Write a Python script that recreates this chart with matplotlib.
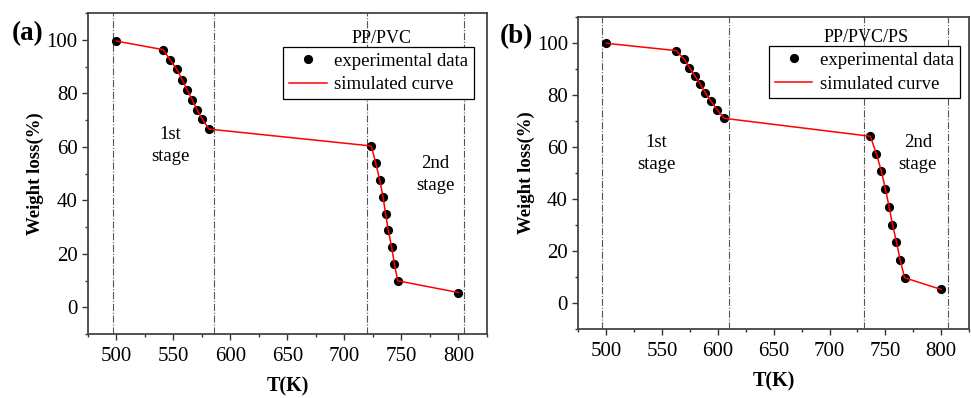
import matplotlib
matplotlib.use("Agg")
import matplotlib.pyplot as plt
from matplotlib.ticker import MultipleLocator

plt.rcParams["font.family"] = ["Liberation Serif", "DejaVu Serif"]

# ---------------------------------------------------------------- data
# (a) PP/PVC
t_a = [500, 541, 547, 553, 557.6, 562, 566.4, 570.8, 575.4, 581.3,
       723.5, 727.4, 730.9, 733.8, 736.1, 738.5, 741.4, 743.8, 746.7, 800]
w_a = [99.5, 96.3, 92.5, 88.9, 85.1, 81.3, 77.6, 73.8, 70.2, 66.6,
       60.3, 54.0, 47.6, 41.4, 34.9, 28.7, 22.4, 16.2, 9.9, 5.5]
stages_a = [496.7, 585.5, 720, 805]

# (b) PP/PVC/PS
t_b = [500, 562.5, 569.7, 574.5, 579.6, 584.4, 588.9, 594, 599.4, 605.7,
       736.5, 742, 746.5, 750.1, 753.4, 756.4, 760, 763.3, 767.2, 800]
w_b = [99.8, 97.0, 93.8, 90.5, 87.2, 84.0, 80.7, 77.5, 74.2, 71.0,
       64.1, 57.4, 50.6, 43.8, 37.0, 30.2, 23.5, 16.7, 9.8, 5.3]
stages_b = [496.4, 609.8, 731.3, 805.7]

panels = [
    dict(t=t_a, w=w_a, stages=stages_a, tag="(a)", name="PP/PVC",
         rect=[0.0906, 0.1608, 0.4109, 0.8065], s1=(547, 60.5), s2=(780, 49.6),
         leg=(0.967, 0.894), title_y=0.922, tag_x=-0.19),
    dict(t=t_b, w=w_b, stages=stages_b, tag="(b)", name="PP/PVC/PS",
         rect=[0.5956, 0.1726, 0.4024, 0.7854], s1=(545, 57.5), s2=(779, 57.5),
         leg=(0.976, 0.906), title_y=0.935, tag_x=-0.2),
]

fig = plt.figure(figsize=(9.71, 3.98), dpi=100)

for p in panels:
    ax = fig.add_axes(p["rect"])
    for xs in p["stages"]:
        ax.axvline(xs, color="#555555", lw=0.8, ls="-.", zorder=1)
    ax.plot(p["t"], p["w"], "o", color="black", ms=5.6, zorder=3,
            label="experimental data")
    ax.plot(p["t"], p["w"], "-", color="red", lw=1.1, zorder=4,
            label="simulated curve")

    ax.set_xlim(475, 825)
    ax.set_ylim(-10, 110)
    ax.xaxis.set_major_locator(MultipleLocator(50))
    ax.xaxis.set_minor_locator(MultipleLocator(25))
    ax.yaxis.set_major_locator(MultipleLocator(20))
    ax.yaxis.set_minor_locator(MultipleLocator(10))
    ax.tick_params(which="both", direction="out", colors="#333333",
                   labelcolor="black", labelsize=15, width=1)
    ax.tick_params(which="major", length=4)
    ax.tick_params(which="minor", length=2.5)
    ax.tick_params(axis="x", pad=5)
    for sp in ax.spines.values():
        sp.set_color("#444444")
        sp.set_linewidth(1.3)

    ax.set_xlabel("T(K)", fontsize=14.5, fontweight="bold", labelpad=8)
    ax.set_ylabel("Weight loss(%)", fontsize=13.5, fontweight="bold", labelpad=1.5)

    ax.text(*p["s1"], "1st\nstage", ha="center", va="center", fontsize=13.5,
            linespacing=1.35)
    ax.text(*p["s2"], "2nd\nstage", ha="center", va="center", fontsize=13.5,
            linespacing=1.35)
    ax.text(0.736, p["title_y"], p["name"], transform=ax.transAxes,
            ha="center", va="center", fontsize=13)
    ax.text(p["tag_x"], 0.935, p["tag"], transform=ax.transAxes, ha="left",
            va="center", fontsize=19.5, fontweight="bold")

    leg = ax.legend(loc="upper right", bbox_to_anchor=p["leg"], fontsize=13.5,
                    frameon=True, fancybox=False, edgecolor="black",
                    framealpha=1, borderpad=0.3, handlelength=2.0,
                    handletextpad=0.4, labelspacing=0.35, borderaxespad=0)
    leg.get_frame().set_linewidth(0.9)
    leg.set_zorder(10)

fig.savefig("out.png", dpi=100)
